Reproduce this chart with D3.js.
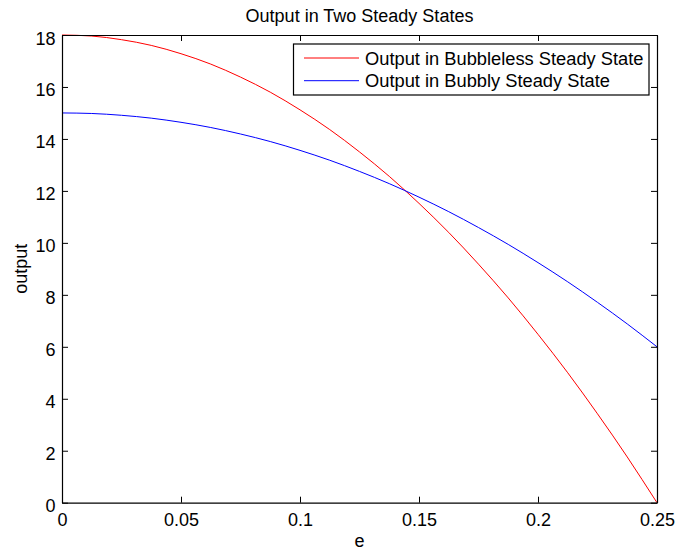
<!DOCTYPE html>
<html>
<head>
<meta charset="utf-8">
<script src="https://cdn.jsdelivr.net/npm/d3@7"></script>
<style>
  body { margin: 0; background: #fff; }
  svg { display: block; font-family: "Liberation Sans", Arial, sans-serif; }
</style>
</head>
<body>
<div class="main"></div>
<script>

// values
const eValues = [0, 0.0125, 0.025, 0.0375, 0.05, 0.0625, 0.075, 0.0875, 0.1, 0.1125, 0.125,
    0.1375, 0.15, 0.1625, 0.175, 0.1875, 0.2, 0.2125, 0.225, 0.2375, 0.25]
const bubblelessOutput = [18, 17.96, 17.82, 17.6, 17.28, 16.88, 16.38, 15.8, 15.12, 14.36, 13.5,
    12.56, 11.52, 10.4, 9.18, 7.88, 6.48, 5.0, 3.42, 1.76, 0]
const bubblyOutput = [15, 14.98, 14.91, 14.8, 14.64, 14.44, 14.19, 13.9, 13.56, 13.18, 12.75,
    12.28, 11.76, 11.2, 10.59, 9.94, 9.24, 8.5, 7.71, 6.88, 6.0]
const xTicks = [0, 0.05, 0.1, 0.15, 0.2, 0.25]
const yTicks = [0, 2, 4, 6, 8, 10, 12, 14, 16, 18]
const seriesNames = ["Output in Bubbleless Steady State", "Output in Bubbly Steady State"]
const seriesColors = ["#ff0000", "#0000ff"]

////////////
// CANVAS //
////////////

const w = 676
const h = 550
const box = { left: 62, right: 657, top: 35, bottom: 502.7 }

const svg = d3.select(".main")
    .append("svg")
    .attr("width", w)
    .attr("height", h)

////////////
// SCALES //
////////////

const xScale = d3.scaleLinear()
    .domain([0, 0.25])
    .range([box.left, box.right])

const yScale = d3.scaleLinear()
    .domain([0, 18])
    .range([box.bottom, box.top])

///////////
// LINES //
///////////

const series = [bubblelessOutput, bubblyOutput]

const line = d3.line()
    .x(d => xScale(d[0]))
    .y(d => yScale(d[1]))
    .curve(d3.curveNatural)

svg.selectAll("path.curve")
    .data(series)
    .enter()
    .append("path")
    .attr("class", "curve")
    .attr("fill", "none")
    .attr("stroke", (d, i) => seriesColors[i])
    .attr("stroke-width", 1)
    .attr("d", vals => line(vals.map((v, i) => [eValues[i], v])))

//////////
// AXES //
//////////

const tickLen = 6
const fmt = d => String(d)

const styleAxis = g => {
    g.selectAll("path.domain").attr("stroke", "#000").attr("stroke-width", 1.2)
    g.selectAll(".tick line").attr("stroke", "#000")
    g.selectAll(".tick text").attr("fill", "#000").style("font-size", "18px")
        .style("font-family", '"Liberation Sans", Arial, sans-serif')
}

svg.append("g")
    .attr("transform", `translate(0, ${box.bottom})`)
    .call(d3.axisBottom(xScale).tickValues(xTicks).tickFormat(fmt)
        .tickSizeInner(-tickLen).tickSizeOuter(0).tickPadding(11))
    .call(styleAxis)

svg.append("g")
    .attr("transform", `translate(0, ${box.top})`)
    .call(d3.axisTop(xScale).tickValues(xTicks).tickFormat("")
        .tickSizeInner(-tickLen).tickSizeOuter(0))
    .call(styleAxis)

svg.append("g")
    .attr("transform", `translate(${box.left}, 0)`)
    .call(d3.axisLeft(yScale).tickValues(yTicks).tickFormat(fmt)
        .tickSizeInner(-tickLen).tickSizeOuter(0).tickPadding(6.5))
    .call(styleAxis)
    .selectAll(".tick text").attr("dy", "0.5em")

svg.append("g")
    .attr("transform", `translate(${box.right}, 0)`)
    .call(d3.axisRight(yScale).tickValues(yTicks).tickFormat("")
        .tickSizeInner(-tickLen).tickSizeOuter(0))
    .call(styleAxis)

////////////
// LABELS //
////////////

svg.append("text")
    .text("Output in Two Steady States")
    .attr("x", (box.left + box.right) / 2)
    .attr("y", 22)
    .attr("text-anchor", "middle")
    .style("font-size", "18px")

svg.append("text")
    .text("e")
    .attr("x", (box.left + box.right) / 2)
    .attr("y", 547)
    .attr("text-anchor", "middle")
    .style("font-size", "18px")

svg.append("text")
    .text("output")
    .attr("transform", `translate(27, ${(box.top + box.bottom) / 2}) rotate(-90)`)
    .attr("text-anchor", "middle")
    .style("font-size", "18px")

////////////
// LEGEND //
////////////

const legend = svg.append("g")

legend.append("rect")
    .attr("x", 293.5)
    .attr("y", 44)
    .attr("width", 355.5)
    .attr("height", 51)
    .attr("fill", "#fff")
    .attr("stroke", "#000")
    .attr("stroke-width", 1.2)

const items = legend.selectAll("g.item")
    .data(seriesNames)
    .enter()
    .append("g")
    .attr("class", "item")
    .attr("transform", (d, i) => `translate(0, ${58 + i * 22.7})`)

items.append("line")
    .attr("x1", 304)
    .attr("x2", 359)
    .attr("stroke", (d, i) => seriesColors[i])
    .attr("stroke-width", 1)

items.append("text")
    .text(d => d)
    .attr("x", 365)
    .attr("y", 6.5)
    .style("font-size", "18.3px")

</script>
</body>
</html>
